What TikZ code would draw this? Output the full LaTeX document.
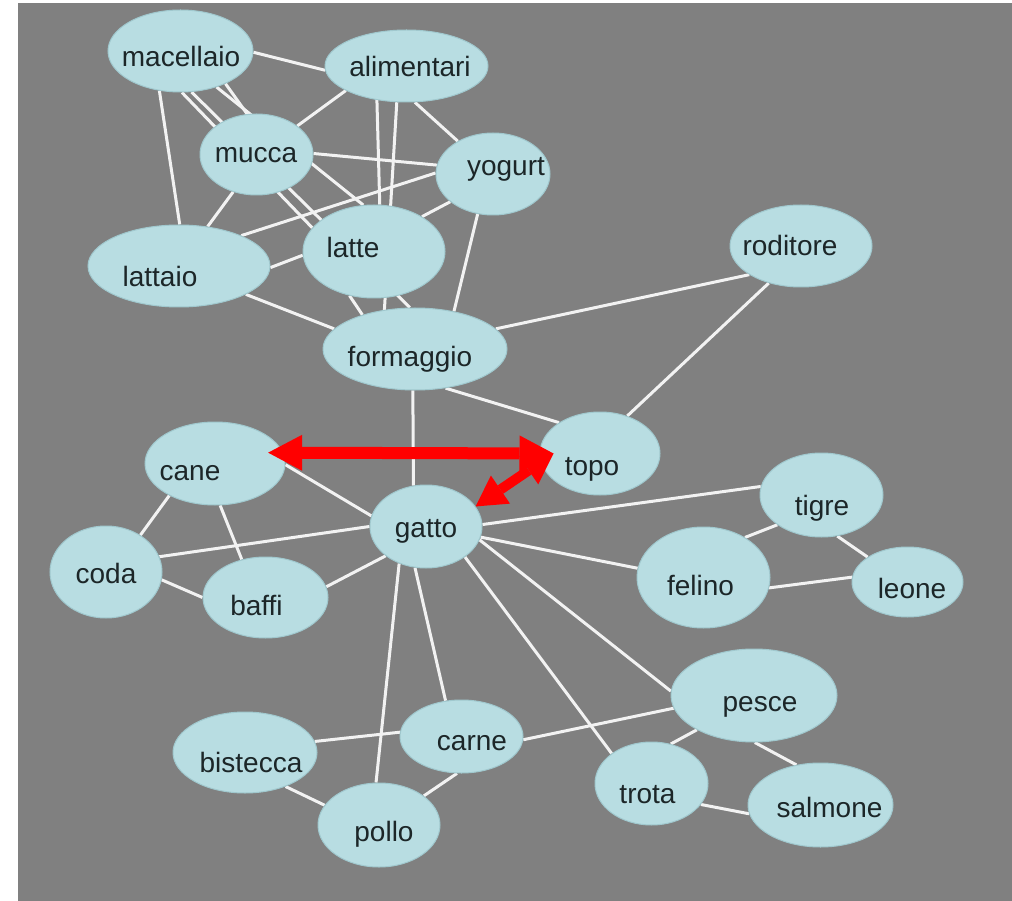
\documentclass[tikz,border=0pt]{standalone}
\usepackage{fontspec}
\setmainfont{Liberation Sans}
\usetikzlibrary{shapes.geometric, arrows.meta}
\definecolor{slate}{RGB}{128,128,128}
\definecolor{bubfill}{RGB}{184,221,226}
\definecolor{bubrim}{RGB}{160,200,206}
\definecolor{inkdark}{RGB}{28,38,40}
\definecolor{linkwhite}{RGB}{242,242,242}
\definecolor{chasered}{RGB}{255,0,0}
\pgfdeclarelayer{bg}
\pgfdeclarelayer{links}
\pgfsetlayers{bg,links,main}
\tikzset{
  bubble/.style={ellipse, fill=bubfill, draw=bubrim, line width=1pt, inner sep=0pt},
  word/.style={anchor=base, inner sep=0pt, text=inkdark,
    font=\fontsize{28}{30}\selectfont},
  link/.style={draw=linkwhite, line width=3pt},
  chase/.style={{Triangle[length=34pt,width=36pt,line width=0pt]}-{Triangle[length=34pt,width=36pt,line width=0pt]},
    draw=chasered, line width=12pt},
  chasesmall/.style={{Triangle[length=30pt,width=34pt,line width=0pt]}-{Triangle[length=30pt,width=34pt,line width=0pt]},
    draw=chasered, line width=10pt}
}

\begin{document}
\begin{tikzpicture}[x=1pt, y=-1pt]
  \useasboundingbox (0,0) rectangle (1012,901);
  \begin{pgfonlayer}{bg}
    \fill[white] (0,0) rectangle (1012,901);
    \fill[slate] (18,3) rectangle (1012,901);
  \end{pgfonlayer}
  % bubbles: name/x/y/width/height/text x/text baseline
  \foreach \n/\x/\y/\w/\h/\tx/\ty in {
    macellaio/180.5/51/145/82/181/67,
    alimentari/406.5/66/163/72/410/77,
    mucca/256.5/154.5/113/81/256/163,
    yogurt/493/174/114/82/506/176,
    latte/374/251.5/142/93/353/258,
    lattaio/179/266/182/82/160/287,
    roditore/801/246/142/82/790/256,
    formaggio/415/349/184/82/410/366,
    cane/215/463.5/140/83/190/480,
    topo/600/453.5/120/83/592/475,
    gatto/426/526.5/112/83/426/537,
    tigre/821.5/495/123/84/822/515,
    coda/106/572/112/92/106/583,
    baffi/265.5/597.5/125/81/256.5/615,
    felino/703.5/577.5/133/101/700.5/595,
    leone/907.5/582/111/70/912/598,
    pesce/754/695.5/166/93/760/711,
    trota/651.5/783.5/113/83/647.5/803,
    salmone/820.5/805/145/84/829.5/817,
    bistecca/245/752.5/144/81/251/772,
    carne/461.5/736.5/123/73/472/750,
    pollo/379/825/122/84/384/841}{
    \node[bubble, minimum width=\w, minimum height=\h] (\n) at (\x,\y) {};
    \node[word] (\n-txt) at (\tx,\ty) {\n};
  }
  % links
  \begin{pgfonlayer}{links}
    \foreach \a/\b in {
      macellaio.359/alimentari.183, macellaio.242/lattaio.89,
      macellaio.272/latte.159, macellaio.285/formaggio.97,
      macellaio.315/latte.103, macellaio.324/mucca.103,
      mucca.35/alimentari.202, mucca.1/yogurt.171, mucca.238/lattaio.54,
      alimentari.229/latte.83, alimentari.255/formaggio.128,
      alimentari.283/yogurt.137,
      yogurt.179/lattaio.26, yogurt.213/latte.36, yogurt.249/formaggio.44,
      lattaio.359/latte.183, lattaio.337/formaggio.166,
      latte.241/formaggio.147,
      formaggio.14/roditore.209, formaggio.308/topo.143,
      formaggio.267/gatto.107, roditore.229/topo.54,
      cane.215/coda.47, cane.277/baffi.122, cane.359/gatto.169,
      coda.16/gatto.180, coda.352/baffi.180, baffi.10/gatto.216,
      gatto.234/pollo.94, gatto.255/carne.114, gatto.322/trota.143,
      gatto.346/pesce.177, gatto.349/felino.172, gatto.2/tigre.172,
      tigre.214/felino.44, tigre.291/leone.148, felino.351/leone.175,
      pesce.189/carne.357, pesce.211/trota.64, pesce.271/salmone.121,
      trota.337/salmone.187,
      bistecca.9/carne.176, bistecca.320/pollo.160, carne.263/pollo.33}
      \draw[link] (\a) -- (\b);
  \end{pgfonlayer}
  % red arrows
  \coordinate (bite) at ([xshift=14pt]topo.west);
  \draw[chase, shorten <=-15pt] (cane.9) -- (bite);
  \draw[chasesmall] (bite) -- (gatto.22);
\end{tikzpicture}
\end{document}
